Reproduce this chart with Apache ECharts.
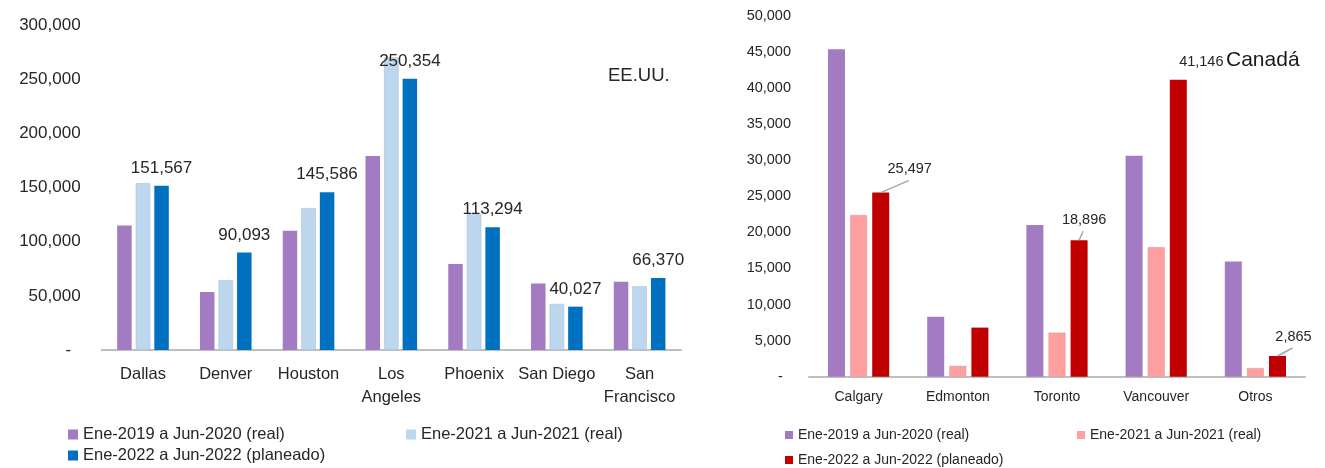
<!DOCTYPE html>
<html>
<head>
<meta charset="utf-8">
<script src="https://cdn.jsdelivr.net/npm/echarts@6/dist/echarts.min.js"></script>
<style>
  html, body { margin: 0; padding: 0; background: #fff; }
  #main { width: 1325px; height: 468px; }
</style>
</head>
<body>
<div id="main"></div>
<script>
// datos
const seriesNames = ['Ene-2019 a Jun-2020 (real)', 'Ene-2021 a Jun-2021 (real)', 'Ene-2022 a Jun-2022 (planeado)']

const usCities = ['Dallas', 'Denver', 'Houston', 'Los\nAngeles', 'Phoenix', 'San Diego', 'San\nFrancisco']
const us2019 = [115000, 53500, 110000, 179000, 79500, 61500, 63000]
const us2021 = [154000, 64500, 131000, 270000, 126000, 42500, 58800]
const us2022 = [151567, 90093, 145586, 250354, 113294, 40027, 66370]

const caCities = ['Calgary', 'Edmonton', 'Toronto', 'Vancouver', 'Otros']
const ca2019 = [45350, 8300, 21000, 30600, 15950]
const ca2021 = [22400, 1500, 6100, 17950, 1200]
const ca2022 = [25497, 6800, 18896, 41146, 2865]
const caShowLabel = [true, false, true, true, true]
const caLeader = [true, false, true, false, true]

const usColors = ['#A37BC2', '#BDD7EE', '#0070C0']
const caColors = ['#A37BC2', '#FF9F9F', '#C00000']

const font = "'Liberation Sans', Arial, sans-serif"
const txt = '#262626'
const fmt = v => v === 0 ? '-  ' : v.toLocaleString('en-US')

// desplazamiento de etiquetas (Canadá)
const caNudge = { 0: [29, -11], 2: [5, -8], 3: [23, -5], 4: [16, -7] }
const caBarW = 17
const caGap = 0.3

const chart = echarts.init(document.getElementById('main'))

const legendItem = (name, color, left, top, small) => ({
  left: left, top: top, padding: 0, icon: 'rect', selectedMode: false,
  itemWidth: small ? 8 : 10, itemHeight: small ? 8 : 10, itemGap: 5,
  data: [{ name: name, itemStyle: { color: color, borderWidth: 0 } }],
  textStyle: { fontSize: small ? 14 : 16.5, lineHeight: small ? 14 : 16, color: txt, fontFamily: font }
})

const option = {
  animation: false,
  textStyle: { fontFamily: font, color: txt },
  grid: [
    { left: 101.6, top: 25, width: 579.4, height: 325 },
    { left: 809, top: 15.7, width: 496, height: 361 }
  ],
  xAxis: [
    {
      type: 'category', gridIndex: 0, data: usCities,
      axisLine: { lineStyle: { color: '#BFBFBF', width: 2 } },
      axisTick: { show: false },
      axisLabel: { color: txt, fontSize: 16.5, fontFamily: font, margin: 13, lineHeight: 23, interval: 0 }
    },
    {
      type: 'category', gridIndex: 1, data: caCities,
      axisLine: { lineStyle: { color: '#BFBFBF', width: 2 } },
      axisTick: { show: false },
      axisLabel: { color: txt, fontSize: 14, fontFamily: font, margin: 13, interval: 0 }
    }
  ],
  yAxis: [
    {
      type: 'value', gridIndex: 0, min: 0, max: 300000, interval: 50000,
      splitLine: { show: false }, axisLine: { show: false }, axisTick: { show: false },
      axisLabel: { color: txt, fontSize: 17, fontFamily: font, margin: 21, formatter: fmt }
    },
    {
      type: 'value', gridIndex: 1, min: 0, max: 50000, interval: 5000,
      splitLine: { show: false }, axisLine: { show: false }, axisTick: { show: false },
      axisLabel: { color: txt, fontSize: 14.5, fontFamily: font, margin: 18, formatter: fmt }
    }
  ],
  legend: [
    legendItem(seriesNames[0], usColors[0], 68, 426),
    legendItem(seriesNames[1], usColors[1], 406, 426),
    legendItem(seriesNames[2], usColors[2], 68, 447),
    legendItem(seriesNames[0], caColors[0], 785, 428, true),
    legendItem(seriesNames[1], caColors[1], 1077, 428, true),
    legendItem(seriesNames[2], caColors[2], 785, 453, true)
  ],
  graphic: [
    { type: 'text', left: 608, top: 66, style: { text: 'EE.UU.', fontSize: 18.5, fontFamily: font, fill: txt } },
    { type: 'text', left: 1226, top: 50, style: { text: 'Canadá', fontSize: 21, fontFamily: font, fill: '#1a1a1a' } }
  ],
  series: [
    { name: seriesNames[0], type: 'bar', xAxisIndex: 0, yAxisIndex: 0, data: us2019, barWidth: 14.5, barGap: '28%', itemStyle: { color: usColors[0] } },
    { name: seriesNames[1], type: 'bar', xAxisIndex: 0, yAxisIndex: 0, data: us2021, barWidth: 14.5, barGap: '28%', itemStyle: { color: usColors[1], borderColor: '#A9BFD4', borderWidth: 0.6 } },
    {
      name: seriesNames[2], type: 'bar', xAxisIndex: 0, yAxisIndex: 0, data: us2022, barWidth: 14.5, barGap: '28%',
      itemStyle: { color: usColors[2] },
      label: { show: true, position: 'top', distance: 9, fontSize: 17, fontFamily: font, color: txt, formatter: p => p.value.toLocaleString('en-US') }
    },
    { name: seriesNames[0], type: 'bar', xAxisIndex: 1, yAxisIndex: 1, data: ca2019, barWidth: caBarW, barGap: caGap * 100 + '%', itemStyle: { color: caColors[0] } },
    { name: seriesNames[1], type: 'bar', xAxisIndex: 1, yAxisIndex: 1, data: ca2021, barWidth: caBarW, barGap: caGap * 100 + '%', itemStyle: { color: caColors[1], borderColor: '#D9A0A0', borderWidth: 0.6 } },
    {
      name: seriesNames[2], type: 'bar', xAxisIndex: 1, yAxisIndex: 1, barWidth: caBarW, barGap: caGap * 100 + '%',
      itemStyle: { color: caColors[2] },
      data: ca2022.map((v, i) => ({ value: v, label: { show: caShowLabel[i] } })),
      label: { position: 'top', distance: 5, fontSize: 14.5, fontFamily: font, color: txt, formatter: p => p.value.toLocaleString('en-US') },
      labelLayout: p => {
        const n = caNudge[p.dataIndex]
        return n ? { dx: n[0], dy: n[1] } : {}
      }
    }
  ]
}

chart.setOption(option)

// líneas guía de las etiquetas de Canadá
const groupW = 3 * caBarW + 2 * caBarW * caGap
const redOffset = groupW / 2 - caBarW / 2
const leaders = []
ca2022.forEach((v, i) => {
  if (!caLeader[i]) return
  const p = chart.convertToPixel({ xAxisIndex: 1, yAxisIndex: 1 }, [i, v])
  const n = caNudge[i]
  const x0 = p[0] + redOffset
  const y0 = p[1]
  leaders.push({
    type: 'line', z: 100,
    shape: { x1: x0, y1: y0, x2: x0 + n[0] - 1, y2: y0 - 5 + n[1] + 4 },
    style: { stroke: '#A6A6A6', lineWidth: 1.5 }
  })
})
chart.setOption({ graphic: option.graphic.concat(leaders) })
</script>
</body>
</html>
